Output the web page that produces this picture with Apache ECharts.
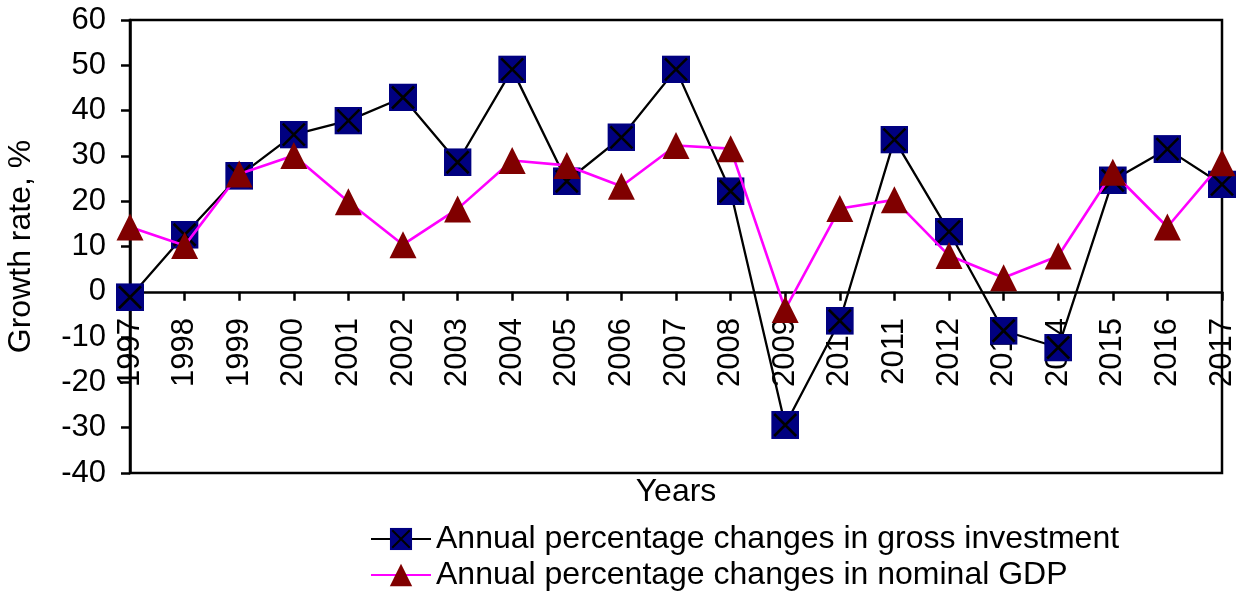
<!DOCTYPE html>
<html>
<head>
<meta charset="utf-8">
<script src="https://cdn.jsdelivr.net/npm/echarts@6/dist/echarts.min.js"></script>
<style>
html,body{margin:0;padding:0;background:#fff;}
#chart{width:1240px;height:594px;}
</style>
</head>
<body>
<div id="chart"></div>
<script>
const years = ['1997','1998','1999','2000','2001','2002','2003','2004','2005','2006','2007','2008','2009','2010','2011','2012','2013','2014','2015','2016','2017'];
const investment = [-1.2, 12.6, 25.6, 34.7, 37.8, 42.9, 28.6, 49.1, 24.4, 34.1, 49.1, 22.2, -29.4, -6.4, 33.6, 13.3, -8.6, -12.3, 24.6, 31.5, 23.7];
const gdp = [14.3, 10.2, 26.0, 30.1, 19.9, 10.4, 18.3, 29.0, 27.9, 23.3, 32.3, 31.6, -3.9, 18.4, 20.3, 8.0, 3.1, 7.9, 26.4, 14.3, 28.5];
const seriesNames = ['Annual percentage changes in gross investment', 'Annual percentage changes in nominal GDP'];

const FONT = 'Arial, "Liberation Sans", sans-serif';
const squareX = "image://data:image/svg+xml;utf8," + encodeURIComponent(
  "<svg xmlns='http://www.w3.org/2000/svg' width='28' height='28' viewBox='0 0 28 28'>" +
  "<rect x='0' y='0' width='28' height='28' fill='#000080'/>" +
  "<path d='M3 3L25 25M25 3L3 25' stroke='#000000' stroke-width='2.6' fill='none'/></svg>");

const chart = echarts.init(document.getElementById('chart'), null, {renderer: 'canvas'});
chart.setOption({
  animation: false,
  backgroundColor: '#ffffff',
  textStyle: {fontFamily: FONT, color: '#000'},
  grid: {left: 130, right: 18, top: 20, bottom: 121, show: true, borderColor: '#000', borderWidth: 2.5, backgroundColor: 'transparent', containLabel: false, outerBoundsMode: 'none'},
  legend: {
    orient: 'vertical',
    left: 370,
    top: 523,
    padding: 0,
    itemWidth: 60,
    itemHeight: 28,
    itemGap: 4,
    textStyle: {fontSize: 32, color: '#000', fontFamily: FONT},
    data: seriesNames
  },
  xAxis: {
    type: 'category',
    data: years,
    boundaryGap: false,
    name: 'Years',
    nameLocation: 'middle',
    nameGap: 3,
    nameTextStyle: {fontSize: 32, color: '#000', fontFamily: FONT},
    axisLine: {show: true, onZero: true, lineStyle: {color: '#000', width: 2.5}},
    axisTick: {show: true, inside: false, length: 9, alignWithLabel: true, lineStyle: {color: '#000', width: 2.5}},
    axisLabel: {rotate: 90, fontSize: 31, color: '#000', margin: -155, interval: 0, fontFamily: FONT},
    splitLine: {show: false}
  },
  yAxis: {
    type: 'value',
    min: -40,
    max: 60,
    interval: 10,
    name: 'Growth rate, %',
    nameLocation: 'middle',
    nameGap: 93,
    nameRotate: 90,
    nameTextStyle: {fontSize: 32, color: '#000', fontFamily: FONT},
    axisLine: {show: true, lineStyle: {color: '#000', width: 2.5}},
    axisTick: {show: true, inside: false, length: 9, lineStyle: {color: '#000', width: 2.5}},
    axisLabel: {fontSize: 31, color: '#000', margin: 24, fontFamily: FONT},
    splitLine: {show: false}
  },
  series: [
    {
      name: seriesNames[0],
      type: 'line',
      data: investment,
      symbol: squareX,
      symbolSize: 28,
      lineStyle: {color: '#000', width: 2.3},
      itemStyle: {color: '#000080'},
      z: 2
    },
    {
      name: seriesNames[1],
      type: 'line',
      data: gdp,
      symbol: 'triangle',
      symbolSize: [27, 27],
      lineStyle: {color: '#ff00ff', width: 2.6},
      itemStyle: {color: '#800000'},
      z: 3
    }
  ]
});
</script>
</body>
</html>
